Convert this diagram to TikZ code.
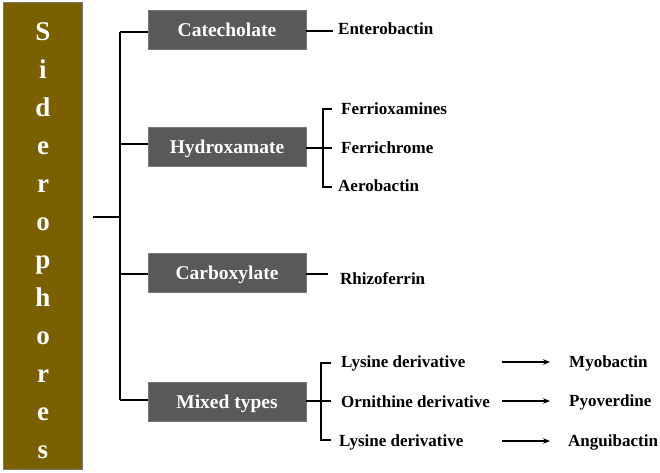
\documentclass[tikz,border=0pt]{standalone}
\usepackage{fontspec}
\setmainfont{Liberation Serif}
\usetikzlibrary{arrows.meta}
\definecolor{barbrown}{RGB}{122,96,0}
\definecolor{boxgray}{RGB}{89,89,89}
\definecolor{boxedge}{RGB}{120,120,120}
\tikzset{
  sidebar/.style={fill=barbrown, draw=boxedge, line width=0.8pt, minimum width=79pt, minimum height=467pt, inner sep=0pt},
  barletter/.style={text=white, font=\fontsize{27}{28}\selectfont\bfseries, anchor=base, inner sep=0pt},
  classbox/.style={fill=boxgray, draw=boxedge, line width=0.8pt, text=white,
    font=\fontsize{19.5}{20}\selectfont\bfseries, minimum width=158pt, minimum height=39pt,
    inner sep=0pt, text height=13pt, text depth=0pt},
  item/.style={font=\fontsize{17}{18}\selectfont\bfseries, anchor=base west, inner sep=0pt},
  conn/.style={line width=1.2pt, black},
  arr/.style={line width=1.2pt, black, -{Stealth[length=7pt,width=5.5pt]}}
}
\begin{document}
\begin{tikzpicture}[x=1pt,y=-1pt]
\useasboundingbox (0,0) rectangle (660,472);
% side bar
\node[sidebar] (bar) at (42.5,235.5) {};
\foreach \l [count=\i from 0] in {S,i,d,e,r,o,p,h,o,r,e,s}
  \node[barletter] (L\i) at (43,{40.5+38*\i}) {\l};
% class boxes
\node[classbox] (cat) at (227,29.5) {Catecholate};
\node[classbox] (hyd) at (227,147) {Hydroxamate};
\node[classbox] (car) at (227,272.5) {Carboxylate};
\node[classbox] (mix) at (227,401.5) {Mixed types};
% trunk
\coordinate (stem) at (93,217);
\coordinate (tj) at (120,217);
\coordinate (t1) at (120,32);
\coordinate (t2) at (120,144);
\coordinate (t3) at (120,274);
\coordinate (t4) at (120,400);
\draw[conn] (stem) -- (tj);
\draw[conn] (t1) -- (t4);
\draw[conn] (t1) -- (cat.west |- t1);
\draw[conn] (t2) -- (hyd.west |- t2);
\draw[conn] (t3) -- (car.west |- t3);
\draw[conn] (t4) -- (mix.west |- t4);
% catecholate
\coordinate (c1) at (333,31);
\draw[conn] (cat.east |- c1) -- (c1);
\node[item] (ent) at (338,34) {Enterobactin};
% hydroxamate
\coordinate (hm) at (332,148);
\coordinate (htop) at (323,109);
\coordinate (hbot) at (323,187);
\draw[conn] (hyd.east |- hm) -- (hm);
\draw[conn] (332,109) -- (htop) -- (hbot) -- (332,187);
\node[item] (fox) at (341,114) {Ferrioxamines};
\node[item] (fch) at (341,153) {Ferrichrome};
\node[item] (aer) at (338,191) {Aerobactin};
% carboxylate
\coordinate (r1) at (328,274);
\draw[conn] (car.east |- r1) -- (r1);
\node[item] (rhi) at (340,284) {Rhizoferrin};
% mixed types
\coordinate (mm) at (331,401);
\coordinate (mtop) at (321,363);
\coordinate (mbot) at (321,440);
\draw[conn] (mix.east |- mm) -- (mm);
\draw[conn] (331,363) -- (mtop) -- (mbot) -- (331,440);
\node[item] (ly1) at (341,367) {Lysine derivative};
\node[item] (orn) at (341,407) {Ornithine derivative};
\node[item] (ly2) at (339,446) {Lysine derivative};
\node[item] (myo) at (569,367) {Myobactin};
\node[item] (pyo) at (569,406) {Pyoverdine};
\node[item] (ang) at (568,446) {Anguibactin};
\coordinate (a1s) at (502,362); \coordinate (a1e) at (550,362);
\coordinate (a2s) at (502,401); \coordinate (a2e) at (550,401);
\coordinate (a3s) at (502,441); \coordinate (a3e) at (550,441);
\draw[arr] (a1s) -- (a1e);
\draw[arr] (a2s) -- (a2e);
\draw[arr] (a3s) -- (a3e);
\end{tikzpicture}
\end{document}
